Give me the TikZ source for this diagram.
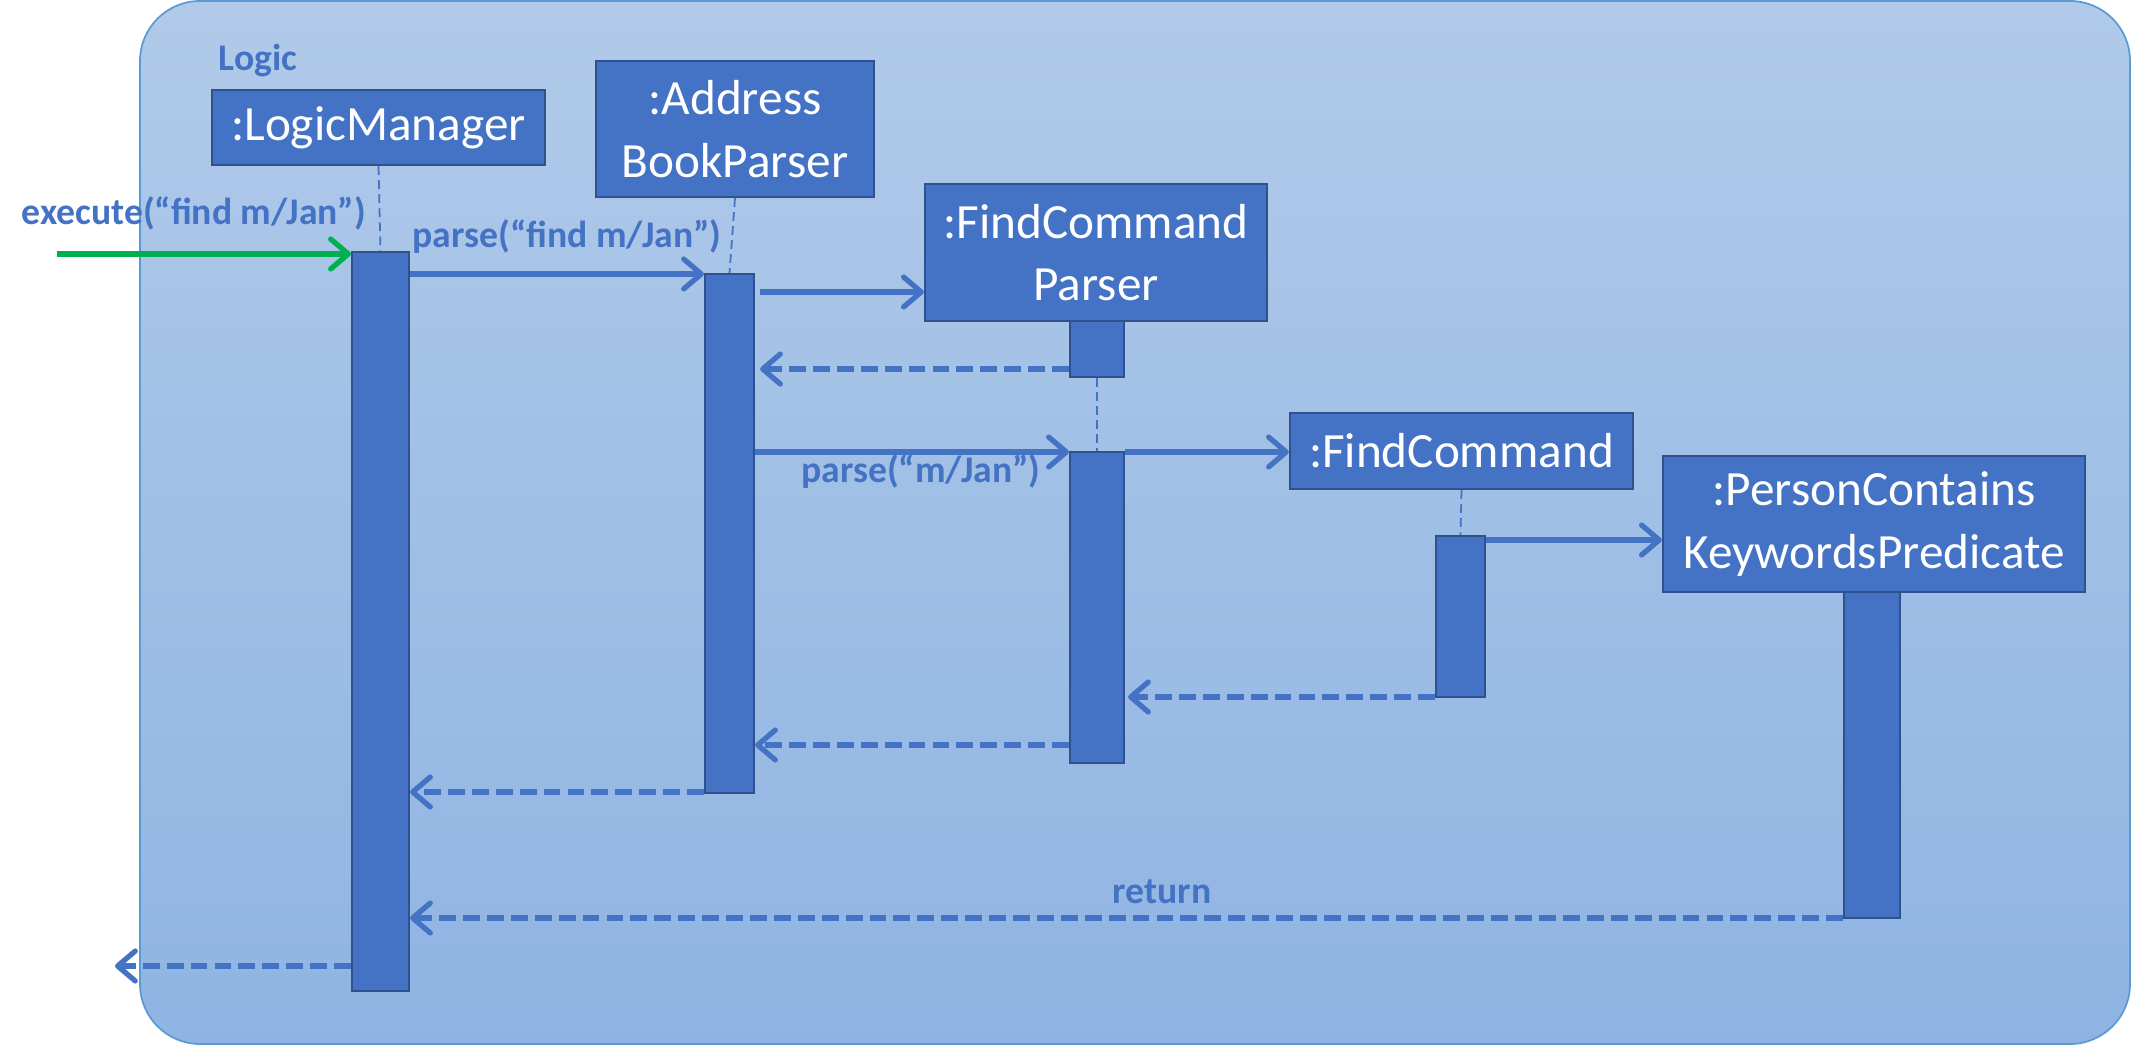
\documentclass[tikz,border=0pt]{standalone}
\usepackage{fontspec}
\setmainfont{Carlito}
\usetikzlibrary{arrows.meta,fit}
\definecolor{boxfill}{HTML}{4472C4}
\definecolor{boxline}{HTML}{2F528F}
\definecolor{arrowblue}{HTML}{4472C4}
\definecolor{startgreen}{HTML}{00B050}
\definecolor{frametop}{HTML}{B1CAE9}
\definecolor{framebot}{HTML}{8FB4E3}
\definecolor{frameline}{HTML}{5B9BD5}
\begin{document}
\begin{tikzpicture}[x=0.01cm,y=-0.01cm,
  obj/.style={draw=boxline, fill=boxfill, line width=0.6pt, inner sep=0pt, text=white, align=center, font=\fontsize{14}{17.8}\selectfont},
  act/.style={draw=boxline, fill=boxfill, line width=0.6pt, inner sep=0pt},
  msg/.style={draw=arrowblue, line width=1.5pt, -{Straight Barb[length=5pt,width=8.5pt,round]}},
  ret/.style={msg, dash pattern=on 4.8pt off 2pt},
  life/.style={draw=arrowblue, line width=0.5pt, dash pattern=on 2.5pt off 1.5pt},
  lbl/.style={text=arrowblue, font=\fontsize{10.7}{13}\selectfont\bfseries, inner sep=0pt}]
\useasboundingbox (0,0) rectangle (2132,1046);
% frame
\shadedraw[top color=frametop, bottom color=framebot, draw=frameline, line width=0.5pt, rounded corners=0.6cm] (140,1) rectangle (2130,1044);
\node[lbl, anchor=base west] (logic) at (218,71) {Logic};
% objects
\node[obj, minimum width=3.33cm, minimum height=0.75cm] (LM) at (378.5,127.5) {:LogicManager};
\node[obj, minimum width=2.78cm, minimum height=1.36cm] (ABP) at (735,129) {:Address\\BookParser};
\node[obj, minimum width=3.42cm, minimum height=1.37cm] (FCP) at (1096,252.5) {:FindCommand\\Parser};
\node[obj, minimum width=3.43cm, minimum height=0.76cm] (FC) at (1461.5,451) {:FindCommand};
\node[obj, minimum width=4.22cm, minimum height=1.36cm] (PCK) at (1874,524) {:PersonContains\\KeywordsPredicate};
% activation bars
\node[act, fit={(352,252)(409,991)}] (A1) {};
\node[act, fit={(705,274)(754,793)}] (A2) {};
\node[act, fit={(1070,321)(1124,377)}] (A3a) {};
\node[act, fit={(1070,452)(1124,763)}] (A3b) {};
\node[act, fit={(1436,536)(1485,697)}] (A4) {};
\node[act, fit={(1844,592)(1900,918)}] (A5) {};
% lifelines
\draw[life] (LM.south) -- (A1.north);
\draw[life] (ABP.south) -- (A2.north);
\draw[life] (A3a.south) -- (A3b.north);
\draw[life] (FC.south) -- (A4.north);
% free ends
\coordinate (start) at (57,254);
\coordinate (finish) at (115,966);
% messages
\draw[msg, draw=startgreen] (start) -- (A1.west |- start);
\node[lbl, anchor=base] (l1) at (194,225) {execute(“find m/Jan”)};
\draw[msg] (A1.east |- 0,274) -- (A2.west |- 0,274);
\node[lbl, anchor=base] (l2) at (567,248) {parse(“find m/Jan”)};
\draw[msg] ([xshift=0.05cm]A2.east |- 0,292) -- (FCP.west |- 0,292);
\draw[ret] (A3a.west |- 0,369) -- ([xshift=0.05cm]A2.east |- 0,369);
\draw[msg] (A2.east |- 0,452) -- (A3b.west |- 0,452);
\node[lbl, anchor=base] (l3) at (921,483) {parse(“m/Jan”)};
\draw[msg] (A3b.east |- 0,452) -- (FC.west |- 0,452);
\draw[msg] (A4.east |- 0,540) -- (PCK.west |- 0,540);
\draw[ret] (A4.west |- 0,697) -- ([xshift=0.03cm]A3b.east |- 0,697);
\draw[ret] (A3b.west |- 0,745) -- (A2.east |- 0,745);
\draw[ret] (A2.west |- 0,792) -- (A1.east |- 0,792);
\draw[ret] (A5.west |- 0,918) -- (A1.east |- 0,918);
\node[lbl, anchor=base] (l4) at (1162,904) {return};
\draw[ret] (A1.west |- finish) -- (finish);
\end{tikzpicture}
\end{document}
